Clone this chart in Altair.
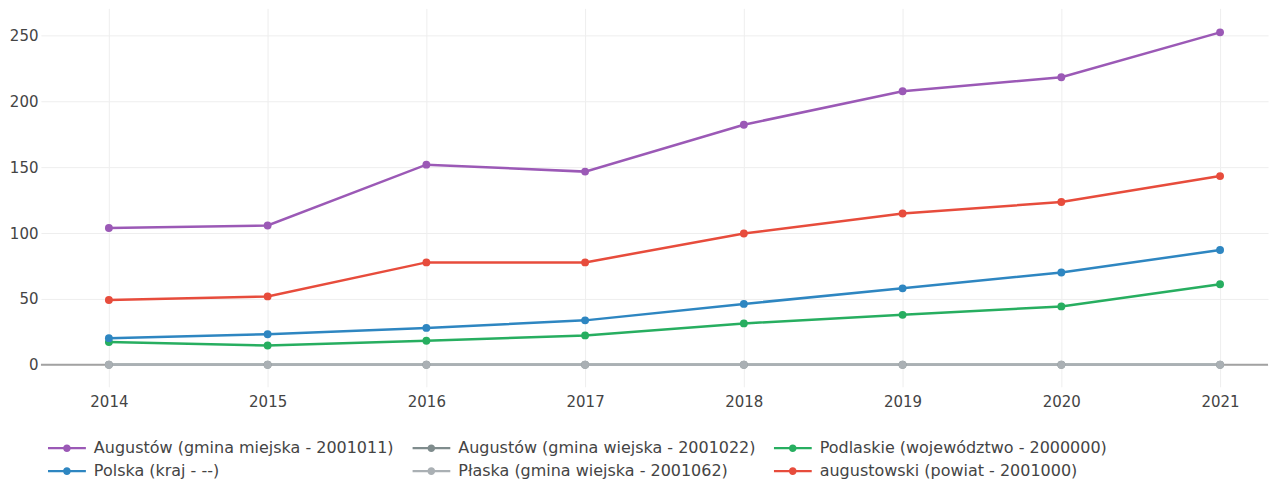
import altair as alt
import pandas as pd

years = [2014, 2015, 2016, 2017, 2018, 2019, 2020, 2021]

# legend order (filled column by column: 2 rows x 3 columns)
series_names = [
    "Augustów (gmina miejska - 2001011)",
    "Polska (kraj - --)",
    "Augustów (gmina wiejska - 2001022)",
    "Płaska (gmina wiejska - 2001062)",
    "Podlaskie (województwo - 2000000)",
    "augustowski (powiat - 2001000)",
]
series_colors = ["#9b59b6", "#2e86c1", "#7f8c8d", "#aab0b4", "#27ae60", "#e74c3c"]

aug_miejska = [103.8, 105.7, 151.9, 146.6, 182.2, 207.6, 218.2, 252.3]
aug_wiejska = [0, 0, 0, 0, 0, 0, 0, 0]
podlaskie = [17.2, 14.6, 18.2, 22.3, 31.4, 37.9, 44.3, 61.1]
polska = [20.2, 23.2, 28.0, 33.7, 46.2, 58.0, 70.0, 87.1]
plaska = [0, 0, 0, 0, 0, 0, 0, 0]
augustowski = [49.2, 51.9, 77.7, 77.7, 99.6, 114.8, 123.5, 143.2]

y_ticks = [0, 50, 100, 150, 200, 250]

# drawing order (later on top)
draw_order = [
    ("Augustów (gmina wiejska - 2001022)", aug_wiejska),
    ("Płaska (gmina wiejska - 2001062)", plaska),
    ("Podlaskie (województwo - 2000000)", podlaskie),
    ("Polska (kraj - --)", polska),
    ("augustowski (powiat - 2001000)", augustowski),
    ("Augustów (gmina miejska - 2001011)", aug_miejska),
]
rows = []
for name, vals in draw_order:
    for yr, v in zip(years, vals):
        rows.append({"year": yr, "value": v, "series": name})
df = pd.DataFrame(rows)

FONT = "DejaVu Sans"
TXT = "#444444"

x_enc = alt.X(
    "year:Q",
    scale=alt.Scale(domain=[2013.572, 2021.302], nice=False, zero=False),
    axis=alt.Axis(
        values=years, format="d", title=None, domain=False, ticks=False,
        grid=True, gridColor="#eeeeee", labelFontSize=15, labelColor=TXT,
        labelFont=FONT, labelPadding=8,
    ),
)
y_enc = alt.Y(
    "value:Q",
    scale=alt.Scale(domain=[-16.7, 270.5], nice=False, zero=False),
    axis=alt.Axis(
        values=y_ticks, title=None, domain=False, ticks=False,
        grid=True, gridColor="#eeeeee", labelFontSize=15, labelColor=TXT,
        labelFont=FONT, labelPadding=3,
    ),
)

legend_symbol = (
    "M-1,-0.06H1V0.06H-1Z "
    "M0.2,0A0.2,0.2 0 1,1 -0.2,0A0.2,0.2 0 1,1 0.2,0Z"
)

legend = alt.Legend(
    title=None,
    orient="none",
    legendX=7,
    legendY=429,
    columns=3,
    columnPadding=18,
    rowPadding=0,
    clipHeight=23,
    symbolType=legend_symbol,
    symbolSize=1444,
    symbolStrokeWidth=0,
    symbolOpacity=1,
    labelOffset=8,
    labelFontSize=16,
    labelFont=FONT,
    labelColor=TXT,
    labelLimit=0,
    padding=0,
)

color_enc = alt.Color(
    "series:N",
    scale=alt.Scale(domain=series_names, range=series_colors),
    sort=series_names,
    legend=legend,
)

zero_rule = alt.Chart(pd.DataFrame({"z": [0]})).mark_rule(
    color="#a2a2a2", strokeWidth=2
).encode(y=alt.Y("z:Q", scale=alt.Scale(domain=[-16.7, 270.5], nice=False, zero=False)))

base = alt.Chart(df).encode(x=x_enc, y=y_enc, color=color_enc)

lines = base.mark_line(strokeWidth=2.5).encode(order=alt.Order("year:Q"))
points = base.mark_point(filled=True, size=62, opacity=1)

chart = (
    alt.layer(zero_rule, lines, points)
    .properties(width=1229, height=379, padding={"left": 1, "top": 0, "right": 0, "bottom": 0})
    .configure(font=FONT, background="white")
    .configure_view(strokeWidth=0, stroke="transparent")
)

chart.save("out.html", embed_options={"renderer": "svg", "actions": False})
